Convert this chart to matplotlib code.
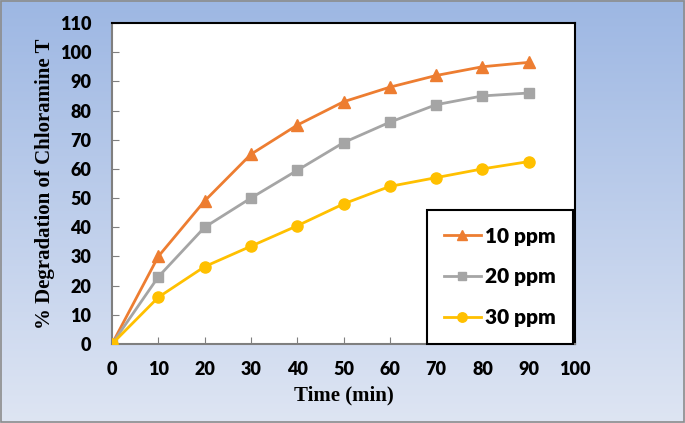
import numpy as np
import matplotlib
matplotlib.use("Agg")
import matplotlib.pyplot as plt
from matplotlib.patches import Rectangle
from matplotlib.font_manager import FontProperties

# data
time_min = [0, 10, 20, 30, 40, 50, 60, 70, 80, 90]
ppm10 = [0, 30, 49, 65, 75, 83, 88, 92, 95, 96.5]
ppm20 = [0, 23, 40, 50, 59.5, 69, 76, 82, 85, 86]
ppm30 = [0, 16, 26.5, 33.5, 40.5, 48, 54, 57, 60, 62.5]
labels = ["10 ppm", "20 ppm", "30 ppm"]

fig = plt.figure(figsize=(6.85, 4.23), dpi=100)

# gradient background
bg = fig.add_axes([0, 0, 1, 1], zorder=-10)
top = np.array([157, 183, 227]) / 255
bot = np.array([222, 229, 243]) / 255
t = np.linspace(0, 1, 256)[:, None]
grad = top[None, :] * (1 - t) + bot[None, :] * t
bg.imshow(grad[:, None, :], aspect="auto", extent=[0, 1, 0, 1])
bg.add_patch(Rectangle((0.001, 0.002), 0.997, 0.995, fill=False,
                       edgecolor="#8c8c8c", lw=1.2, transform=bg.transAxes))
bg.set_axis_off()

ax = fig.add_axes([0.1635, 0.1868, 0.676, 0.7589])
ax.set_facecolor("white")

tick_fp = FontProperties(family="Lato", weight="heavy", size=13)

ax.plot(time_min, ppm10, color="#ED7D31", lw=2, marker="^", ms=8, label=labels[0], zorder=3)
ax.plot(time_min, ppm20, color="#A5A5A5", lw=2, marker="s", ms=7, label=labels[1], zorder=3)
ax.plot(time_min, ppm30, color="#FFC000", lw=2, marker="o", ms=8, label=labels[2], zorder=3)

ax.set_xlim(0, 100)
ax.set_ylim(0, 110)
ax.set_xticks(range(0, 101, 10))
ax.set_yticks(range(0, 111, 10))
ax.tick_params(direction="in", length=5, color="#7f7f7f")
ax.tick_params(axis="y", pad=15)
ax.tick_params(axis="x", pad=12)
for lab in ax.get_xticklabels() + ax.get_yticklabels():
    lab.set_fontproperties(tick_fp)

for side in ["top", "right"]:
    ax.spines[side].set_color("black")
    ax.spines[side].set_linewidth(1.5)
for side in ["left", "bottom"]:
    ax.spines[side].set_color("#7f7f7f")
    ax.spines[side].set_linewidth(1.5)

ax.set_xlabel("Time (min)", family="Liberation Serif", weight="bold", size=15, labelpad=6)
ax.set_ylabel("% Degradation of Chloramine T", family="Liberation Serif", weight="bold",
              size=15, labelpad=3)

leg = ax.legend(loc="lower right", bbox_to_anchor=(0.995, 0.0), frameon=True, fancybox=False,
                prop=FontProperties(family="Lato", weight="heavy", size=15),
                handlelength=1.8, handletextpad=0.2, labelspacing=1.05,
                borderpad=0.8, borderaxespad=0.0, markerscale=0.85)
leg.get_frame().set_edgecolor("black")
leg.get_frame().set_linewidth(1.5)
leg.get_frame().set_alpha(1)

fig.savefig("out.png", dpi=100)
